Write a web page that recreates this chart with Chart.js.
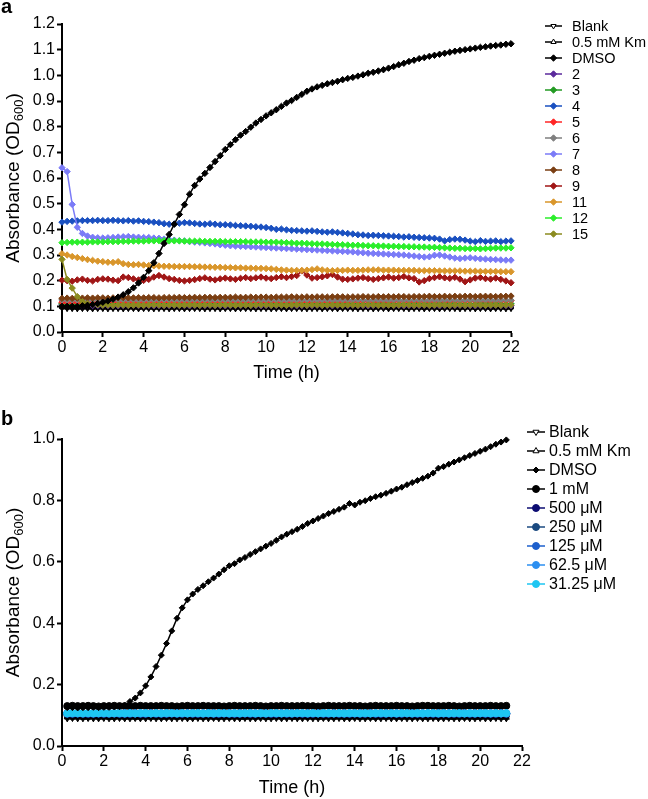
<!DOCTYPE html>
<html>
<head>
<meta charset="utf-8">
<script src="https://cdn.jsdelivr.net/npm/chart.js@4.4.1/dist/chart.umd.min.js"></script>
<style>
body { margin: 0; background: #fff; width: 648px; height: 799px; position: relative; overflow: hidden; font-family: "Liberation Sans", Arial, sans-serif; }
canvas { position: absolute; left: 0; }
#chartA { top: 0; }
#chartB { top: 400px; }
.panel { position: absolute; left: 1px; font-weight: bold; font-size: 20px; line-height: 23px; }
</style>
</head>
<body>
<canvas id="chartA" width="648" height="400"></canvas>
<canvas id="chartB" width="648" height="399"></canvas>
<div class="panel" style="top:-5px">a</div>
<div class="panel" style="top:407px">b</div>
<script>
const FONT = "'Liberation Sans', Arial, sans-serif";

// ---- panel a: time (h), 15 min reads
const timeA = [0,0.25,0.5,0.75,1,1.25,1.5,1.75,2,2.25,2.5,2.75,3,3.25,3.5,3.75,4,4.25,4.5,4.75,
  5,5.25,5.5,5.75,6,6.25,6.5,6.75,7,7.25,7.5,7.75,8,8.25,8.5,8.75,9,9.25,9.5,9.75,
  10,10.25,10.5,10.75,11,11.25,11.5,11.75,12,12.25,12.5,12.75,13,13.25,13.5,13.75,14,14.25,14.5,14.75,
  15,15.25,15.5,15.75,16,16.25,16.5,16.75,17,17.25,17.5,17.75,18,18.25,18.5,18.75,19,19.25,19.5,19.75,
  20,20.25,20.5,20.75,21,21.25,21.5,21.75,22,22.25];

const blankA = [.092,.091,.091,.090,.091,.091,.090,.091, .091,.090,.091,.091,.090,.091,.091,.090,
  .091,.091,.090,.091,.091,.090,.091,.091, .090,.091,.091,.091,.090,.091,.091,.090,
  .091,.091,.090,.091,.091,.091,.090,.091, .091,.090,.091,.091,.090,.091,.091,.091,
  .090,.091,.091,.090,.091,.091,.090,.091, .091,.091,.090,.091,.091,.090,.091,.091,
  .090,.091,.091,.091,.090,.091,.091,.090, .091,.091,.090,.091,.091,.091,.090,.091,
  .091,.090,.091,.091,.090,.091,.091,.090, .091,.091];
const kmA = [.097,.096,.096,.095,.096,.096,.095,.096, .096,.095,.096,.096,.095,.096,.096,.095,
  .096,.096,.095,.096,.096,.095,.096,.096, .095,.096,.096,.096,.095,.096,.096,.095,
  .096,.096,.095,.096,.096,.096,.095,.096, .096,.095,.096,.096,.095,.096,.096,.096,
  .095,.096,.096,.095,.096,.096,.095,.096, .096,.096,.095,.096,.096,.095,.096,.096,
  .095,.096,.096,.096,.095,.096,.096,.095, .096,.096,.095,.096,.096,.096,.095,.096,
  .096,.095,.096,.096,.095,.096,.096,.095, .096,.096];
const dmsoA = [.100,.100,.100,.100,.102,.104,.107,.111, .116,.121,.128,.136,.145,.157,.172,.191,
  .213,.239,.270,.306,.345,.380,.420,.458, .496,.537,.571,.596,.618,.641,.664,.687,
  .711,.730,.749,.767,.781,.798,.814,.828, .842,.854,.866,.879,.892,.902,.914,.926,
  .938,.947,.955,.961,.967,.972,.977,.983, .988,.992,.997,1.002,1.008,1.012,1.017,1.022,
  1.028,1.034,1.041,1.047,1.054,1.059,1.065,1.069, 1.074,1.078,1.082,1.086,1.090,1.094,1.097,1.100,
  1.103,1.106,1.109,1.111,1.114,1.116,1.118,1.121, 1.123,1.125];
const c2A = [.106,.105,.104,.103,.103,.104,.103,.103, .104,.103,.103,.102,.103,.103,.104,.103,
  .103,.103,.102,.103,.103,.103,.104,.103, .103,.102,.103,.103,.103,.104,.103,.103,
  .102,.103,.103,.103,.104,.103,.103,.102, .103,.103,.103,.104,.103,.103,.102,.103,
  .103,.103,.104,.103,.103,.102,.103,.103, .103,.104,.103,.103,.102,.103,.103,.103,
  .104,.103,.103,.102,.103,.103,.103,.104, .103,.103,.102,.103,.103,.103,.104,.103,
  .103,.102,.103,.103,.103,.104,.103,.103, .102,.103];
const c3A = [.111,.110,.110,.109,.110,.110,.110,.111, .110,.110,.109,.110,.110,.111,.110,.110,
  .110,.109,.110,.110,.111,.110,.110,.110, .109,.110,.110,.111,.110,.110,.110,.109,
  .110,.110,.111,.110,.110,.110,.109,.110, .110,.111,.110,.110,.110,.109,.110,.110,
  .111,.110,.110,.110,.109,.110,.110,.111, .110,.110,.110,.109,.110,.110,.111,.110,
  .110,.110,.109,.110,.110,.111,.110,.110, .110,.109,.110,.110,.111,.110,.110,.110,
  .109,.110,.110,.111,.110,.110,.110,.109, .110,.110];
const c4A = [.428,.431,.432,.433,.434,.434,.434,.435, .434,.434,.435,.434,.433,.434,.432,.433,
  .431,.430,.428,.426,.422,.420,.421,.424, .426,.425,.423,.421,.420,.422,.420,.418,
  .418,.417,.415,.414,.413,.412,.410,.409, .407,.404,.400,.401,.398,.396,.395,.394,
  .393,.394,.392,.390,.389,.390,.388,.386, .384,.382,.379,.378,.376,.377,.376,.375,
  .374,.373,.372,.370,.371,.369,.368,.367, .366,.365,.362,.355,.360,.362,.361,.358,
  .354,.352,.356,.353,.354,.355,.352,.354, .355,.356];
const c5A = [.116,.116,.117,.116,.117,.117,.116,.117, .117,.117,.118,.117,.117,.118,.117,.118,
  .118,.117,.118,.118,.118,.117,.118,.118, .118,.119,.118,.118,.119,.118,.119,.119,
  .118,.119,.119,.119,.118,.119,.119,.119, .119,.120,.119,.119,.120,.119,.120,.120,
  .119,.120,.120,.120,.119,.120,.120,.120, .120,.121,.120,.120,.121,.120,.121,.121,
  .120,.121,.121,.121,.120,.121,.121,.121, .121,.121,.122,.121,.121,.122,.121,.121,
  .122,.121,.122,.122,.121,.122,.122,.121, .122,.122];
const c6A = [.125,.124,.125,.125,.124,.125,.125,.125, .124,.125,.125,.124,.125,.125,.125,.124,
  .125,.125,.124,.125,.125,.125,.124,.125, .125,.124,.125,.125,.125,.124,.125,.125,
  .124,.125,.125,.125,.124,.125,.125,.124, .125,.125,.125,.124,.125,.125,.124,.125,
  .125,.125,.124,.125,.125,.124,.125,.125, .125,.124,.125,.125,.124,.125,.125,.125,
  .124,.125,.125,.124,.125,.125,.125,.124, .125,.125,.124,.125,.125,.125,.124,.125,
  .125,.124,.125,.125,.125,.124,.125,.125, .124,.125];
const c7A = [.640,.625,.497,.408,.384,.374,.369,.367, .366,.367,.368,.370,.371,.372,.370,.369,
  .368,.368,.366,.365,.362,.360,.358,.356, .355,.352,.350,.349,.347,.345,.343,.340,
  .338,.336,.335,.334,.333,.332,.331,.330, .329,.328,.327,.326,.325,.324,.323,.322,
  .321,.320,.319,.318,.317,.316,.315,.314, .313,.312,.310,.309,.307,.306,.305,.304,
  .303,.302,.301,.300,.298,.296,.294,.292, .293,.299,.300,.296,.292,.288,.286,.288,
  .289,.287,.285,.284,.283,.282,.281,.280, .280,.279];
const c8A = [.131,.132,.131,.132,.132,.133,.132,.133, .133,.132,.133,.133,.134,.133,.133,.134,
  .133,.134,.134,.133,.134,.134,.134,.135, .134,.134,.135,.134,.135,.135,.134,.135,
  .135,.135,.136,.135,.135,.136,.135,.136, .136,.135,.136,.136,.136,.137,.136,.136,
  .137,.136,.137,.137,.136,.137,.137,.137, .136,.137,.137,.138,.137,.137,.138,.137,
  .138,.137,.138,.138,.137,.138,.138,.138, .139,.138,.138,.139,.138,.139,.138,.139,
  .139,.138,.139,.139,.139,.138,.139,.139, .140,.139];
const c9A = [.202,.200,.198,.203,.206,.201,.199,.205, .207,.206,.202,.200,.214,.212,.207,.203,
  .201,.205,.214,.220,.214,.208,.205,.201, .199,.201,.204,.208,.211,.206,.203,.207,
  .210,.207,.205,.209,.212,.208,.211,.214, .210,.208,.212,.215,.212,.216,.220,.238,
  .222,.210,.212,.215,.219,.224,.214,.206, .205,.207,.210,.212,.208,.205,.208,.211,
  .214,.210,.212,.216,.211,.208,.195,.200, .208,.212,.215,.211,.209,.213,.206,.196,
  .203,.210,.212,.208,.206,.210,.205,.199, .192,.195];
const c11A = [.305,.300,.294,.290,.286,.282,.279,.276, .274,.272,.271,.274,.266,.263,.262,.263,
  .261,.259,.258,.257,.256,.256,.255,.255, .255,.255,.254,.254,.253,.253,.252,.252,
  .251,.251,.250,.250,.249,.249,.248,.248, .247,.246,.244,.242,.241,.240,.240,.240,
  .241,.243,.246,.242,.240,.239,.240,.240, .241,.240,.240,.241,.242,.242,.242,.241,
  .241,.241,.240,.240,.240,.240,.239,.239, .239,.239,.238,.238,.238,.238,.238,.237,
  .237,.237,.236,.236,.236,.236,.235,.235, .235,.235];
const c12A = [.348,.349,.350,.350,.350,.350,.351,.351, .351,.352,.352,.352,.353,.353,.354,.354,
  .354,.355,.355,.356,.356,.355,.355,.355, .354,.354,.354,.354,.353,.353,.353,.353,
  .352,.352,.352,.352,.352,.351,.351,.351, .350,.350,.350,.349,.348,.347,.346,.346,
  .345,.344,.343,.343,.342,.341,.340,.340, .339,.338,.338,.337,.336,.336,.335,.335,
  .334,.334,.333,.333,.332,.332,.331,.331, .330,.330,.329,.328,.327,.326,.326,.325,
  .325,.325,.324,.325,.326,.327,.327,.327, .328,.328];
const c15A = [.283,.205,.171,.138,.118,.110,.107,.106, .105,.105,.104,.105,.105,.104,.105,.105,
  .104,.105,.105,.105,.104,.105,.105,.104, .105,.105,.105,.104,.105,.105,.104,.105,
  .105,.105,.104,.105,.105,.104,.105,.105, .105,.104,.105,.105,.104,.105,.105,.105,
  .104,.105,.105,.104,.105,.105,.105,.104, .105,.105,.104,.105,.105,.105,.104,.105,
  .105,.104,.105,.105,.105,.104,.105,.105, .104,.105,.105,.105,.104,.105,.105,.104,
  .105,.105,.105,.104,.105,.105,.104,.105, .105,.105];

// ---- panel b
const timeB = [0.25,0.5,0.75,1,1.25,1.5,1.75,2,2.25,2.5,2.75,3,3.25,3.5,3.75,4,4.25,4.5,4.75,5,
  5.25,5.5,5.75,6,6.25,6.5,6.75,7,7.25,7.5,7.75,8,8.25,8.5,8.75,9,9.25,9.5,9.75,10,
  10.25,10.5,10.75,11,11.25,11.5,11.75,12,12.25,12.5,12.75,13,13.25,13.5,13.75,14,14.25,14.5,14.75,15,
  15.25,15.5,15.75,16,16.25,16.5,16.75,17,17.25,17.5,17.75,18,18.25,18.5,18.75,19,19.25,19.5,19.75,20,
  20.25,20.5,20.75,21,21.25];

const blankB = [.090,.091,.090,.090,.091,.090,.090,.091, .090,.090,.091,.090,.090,.091,.090,.090,
  .091,.090,.090,.091,.090,.090,.091,.090, .090,.091,.090,.090,.091,.090,.090,.091,
  .090,.090,.091,.090,.090,.091,.090,.090, .091,.090,.090,.091,.090,.090,.091,.090,
  .090,.091,.090,.090,.091,.090,.090,.091, .090,.090,.091,.090,.090,.091,.090,.090,
  .091,.090,.090,.091,.090,.090,.091,.090, .090,.091,.090,.090,.091,.090,.090,.091, .090,.090,.091,.090,.090];
const kmB = [.094,.093,.094,.093,.093,.094,.093,.094, .093,.093,.094,.093,.094,.093,.093,.094,
  .093,.094,.093,.093,.094,.093,.094,.093, .093,.094,.093,.094,.093,.093,.094,.093,
  .094,.093,.093,.094,.093,.094,.093,.093, .094,.093,.094,.093,.093,.094,.093,.094,
  .093,.093,.094,.093,.094,.093,.093,.094, .093,.094,.093,.093,.094,.093,.094,.093,
  .093,.094,.093,.094,.093,.093,.094,.093, .094,.093,.093,.094,.093,.094,.093,.093, .094,.093,.094,.093,.093];
const dmsoB = [.125,.125,.124,.125,.125,.126,.125,.126, .126,.127,.128,.132,.145,.156,.173,.196,
  .225,.259,.296,.334,.375,.416,.450,.476, .495,.510,.522,.535,.547,.560,.574,.587,
  .594,.606,.614,.624,.633,.642,.651,.660, .670,.681,.690,.698,.706,.715,.725,.733,
  .741,.749,.757,.764,.771,.778,.790,.785, .794,.799,.806,.812,.817,.823,.830,.837,
  .843,.851,.858,.865,.872,.879,.889,.905, .910,.918,.925,.932,.939,.946,.953,.960, .967,.975,.983,.990,.997];
const mM1B = [.130,.131,.130,.130,.131,.130,.129,.130, .130,.131,.130,.130,.129,.130,.131,.130,
  .130,.130,.131,.130,.130,.129,.130,.131, .130,.130,.131,.130,.130,.130,.129,.130,
  .131,.130,.130,.130,.131,.130,.129,.130, .130,.131,.130,.130,.130,.131,.130,.130,
  .129,.130,.131,.130,.130,.130,.131,.130, .130,.129,.130,.131,.130,.130,.130,.131,
  .130,.130,.129,.130,.131,.131,.130,.130, .130,.131,.130,.129,.130,.131,.130,.130, .130,.131,.130,.130,.131];
const u500B = [.104,.104,.105,.104,.104,.104,.105,.104, .104,.105,.104,.104,.104,.105,.104,.104,
  .105,.104,.104,.104,.105,.104,.104,.105, .104,.104,.104,.105,.104,.104,.105,.104,
  .104,.104,.105,.104,.104,.105,.104,.104, .104,.105,.104,.104,.105,.104,.104,.104,
  .105,.104,.104,.105,.104,.104,.104,.105, .104,.104,.105,.104,.104,.104,.105,.104,
  .104,.105,.104,.104,.104,.105,.104,.104, .105,.104,.104,.104,.105,.104,.104,.105, .104,.104,.104,.105,.104];
const u250B = [.105,.105,.106,.105,.105,.105,.106,.105, .105,.106,.105,.105,.105,.106,.105,.105,
  .106,.105,.105,.105,.106,.105,.105,.106, .105,.105,.105,.106,.105,.105,.106,.105,
  .105,.105,.106,.105,.105,.106,.105,.105, .105,.106,.105,.105,.106,.105,.105,.105,
  .106,.105,.105,.106,.105,.105,.105,.106, .105,.105,.106,.105,.105,.105,.106,.105,
  .105,.106,.105,.105,.105,.106,.105,.105, .106,.105,.105,.105,.106,.105,.105,.106, .105,.105,.105,.106,.105];
const u125B = [.106,.106,.107,.106,.106,.106,.107,.106, .106,.107,.106,.106,.106,.107,.106,.106,
  .107,.106,.106,.106,.107,.106,.106,.107, .106,.106,.106,.107,.106,.106,.107,.106,
  .106,.106,.107,.106,.106,.107,.106,.106, .106,.107,.106,.106,.107,.106,.106,.106,
  .107,.106,.106,.107,.106,.106,.106,.107, .106,.106,.107,.106,.106,.106,.107,.106,
  .106,.107,.106,.106,.106,.107,.106,.106, .107,.106,.106,.106,.107,.106,.106,.107, .106,.106,.106,.107,.106];
const u62B = [.107,.107,.106,.107,.107,.107,.106,.107, .107,.106,.107,.107,.107,.106,.107,.107,
  .106,.107,.107,.107,.106,.107,.107,.106, .107,.107,.107,.106,.107,.107,.106,.107,
  .107,.107,.106,.107,.107,.106,.107,.107, .107,.106,.107,.107,.106,.107,.107,.107,
  .106,.107,.107,.106,.107,.107,.107,.106, .107,.107,.106,.107,.107,.107,.106,.107,
  .107,.106,.107,.107,.107,.106,.107,.107, .106,.107,.107,.107,.106,.107,.107,.106, .107,.107,.107,.106,.107];
const u31B = [.106,.107,.107,.106,.107,.106,.107,.107, .106,.107,.107,.106,.107,.106,.107,.107,
  .106,.107,.106,.107,.107,.106,.107,.106, .107,.107,.106,.107,.106,.107,.107,.106,
  .107,.106,.107,.107,.106,.107,.106,.107, .107,.106,.107,.106,.107,.107,.106,.107,
  .106,.107,.107,.106,.107,.106,.107,.107, .106,.107,.106,.107,.107,.106,.107,.106,
  .107,.107,.106,.107,.106,.107,.107,.106, .107,.106,.107,.107,.106,.107,.106,.107, .107,.106,.107,.106,.107];

// pair times with values
function pts(t, v) {
    return v.map((y, i) => ({ x: t[i], y: y }));
}

function series(label, t, v, color, style, radius, extra) {
    return Object.assign({
        label: label,
        data: pts(t, v),
        borderColor: color,
        backgroundColor: color,
        pointBackgroundColor: color,
        pointBorderColor: color,
        pointStyle: style,
        pointRadius: radius,
        pointBorderWidth: 1,
        pointRotation: 0,
        borderWidth: 1.5,
        tension: 0,
        clip: false
    }, extra || {});
}

// legend with a line segment and the marker, like the original figure
const sideLegend = {
    id: 'sideLegend',
    afterDraw(chart, args, opts) {
        const ctx = chart.ctx;
        ctx.save();
        ctx.font = opts.fontSize + 'px ' + FONT;
        ctx.textBaseline = 'middle';
        ctx.textAlign = 'left';
        chart.data.datasets.forEach((ds, i) => {
            const y = opts.top + i * opts.gap;
            ctx.strokeStyle = ds.borderColor;
            ctx.lineWidth = 1.5;
            ctx.beginPath();
            ctx.moveTo(opts.x, y);
            ctx.lineTo(opts.x + opts.len, y);
            ctx.stroke();
            // triangles are open in the key
            ctx.fillStyle = ds.pointStyle === 'triangle' ? '#fff' : ds.pointBackgroundColor;
            ctx.strokeStyle = ds.pointBorderColor;
            ctx.lineWidth = 1;
            Chart.helpers.drawPoint(ctx, {
                pointStyle: ds.pointStyle,
                rotation: ds.pointRotation,
                radius: ds.pointRadius,
                borderWidth: 1
            }, opts.x + opts.len / 2, y);
            ctx.fillStyle = '#000';
            ctx.fillText(ds.label, opts.textX, y + 1);
        });
        ctx.restore();
    }
};

// rotated y title with subscript
const yTitle = {
    id: 'yTitle',
    afterDraw(chart, args, opts) {
        const ctx = chart.ctx, a = chart.chartArea;
        const big = opts.size + 'px ' + FONT;
        const small = Math.round(opts.size * 0.68) + 'px ' + FONT;
        ctx.save();
        ctx.translate(opts.x, (a.top + a.bottom) / 2);
        ctx.rotate(-Math.PI / 2);
        ctx.fillStyle = '#000';
        ctx.textBaseline = 'alphabetic';
        ctx.textAlign = 'left';
        const p1 = 'Absorbance (OD', p2 = '600', p3 = ')';
        ctx.font = big;
        const w1 = ctx.measureText(p1).width, w3 = ctx.measureText(p3).width;
        ctx.font = small;
        const w2 = ctx.measureText(p2).width;
        let x = -(w1 + w2 + w3) / 2;
        const base = opts.size * 0.36;
        ctx.font = big; ctx.fillText(p1, x, base); x += w1;
        ctx.font = small; ctx.fillText(p2, x, base + opts.size * 0.22); x += w2;
        ctx.font = big; ctx.fillText(p3, x, base);
        ctx.restore();
    }
};

function axes(yMax, yStep, xHeight, titleBottom) {
    return {
        x: {
            type: 'linear', min: 0, max: 22,
            border: { color: '#000', width: 2 },
            grid: { drawOnChartArea: false, tickLength: 5, tickWidth: 2, tickColor: '#000' },
            ticks: { stepSize: 2, includeBounds: false, color: '#000', padding: 1, maxRotation: 0, font: { size: 16, family: FONT } },
            title: { display: true, text: 'Time (h)', color: '#000', font: { size: 18, family: FONT }, padding: { top: 0, bottom: titleBottom } },
            afterFit(s) { s.height = xHeight; }
        },
        y: {
            type: 'linear', min: 0, max: yMax,
            border: { color: '#000', width: 2 },
            grid: { drawOnChartArea: false, tickLength: 5, tickWidth: 2, tickColor: '#000' },
            ticks: { stepSize: yStep, color: '#000', padding: 2, font: { size: 16, family: FONT }, callback: v => v.toFixed(1) },
            afterFit(s) { s.width = 62; }
        }
    };
}

const diamond = 'rectRot';
const datasetsA = [
    series('Blank', timeA, blankA, '#000000', 'triangle', 3, { pointRotation: 180 }),
    series('0.5 mM Km', timeA, kmA, '#000000', 'triangle', 3),
    series('DMSO', timeA, dmsoA, '#000000', diamond, 3.2, { order: -100 }),
    series('2', timeA, c2A, '#5b2a9c', diamond, 3.2),
    series('3', timeA, c3A, '#239a23', diamond, 3.2),
    series('4', timeA, c4A, '#1a50c0', diamond, 3.2),
    series('5', timeA, c5A, '#ff2626', diamond, 3.2),
    series('6', timeA, c6A, '#7f7f7f', diamond, 3.2),
    series('7', timeA, c7A, '#7b7bf7', diamond, 3.2),
    series('8', timeA, c8A, '#7a3e12', diamond, 3.2),
    series('9', timeA, c9A, '#a01616', diamond, 3.2),
    series('11', timeA, c11A, '#d9962b', diamond, 3.2),
    series('12', timeA, c12A, '#2bee2b', diamond, 3.2),
    series('15', timeA, c15A, '#8b8b1f', diamond, 3.2)
];
datasetsA.forEach((d, i) => { if (d.order === undefined) d.order = -i; });

new Chart(document.getElementById('chartA').getContext('2d'), {
    type: 'line',
    data: { datasets: datasetsA },
    options: {
        responsive: false,
        animation: false,
        devicePixelRatio: 1,
        layout: { padding: { left: 0, right: 137, top: 24, bottom: 0 } },
        scales: axes(1.2, 0.1, 68, 16),
        plugins: {
            legend: { display: false },
            tooltip: { enabled: false },
            sideLegend: { x: 545, len: 17, textX: 572, top: 26, gap: 16, fontSize: 14.5 },
            yTitle: { x: 12, size: 19 }
        }
    },
    plugins: [sideLegend, yTitle]
});

const datasetsB = [
    series('Blank', timeB, blankB, '#000000', 'triangle', 3.5, { pointRotation: 180 }),
    series('0.5 mM Km', timeB, kmB, '#000000', 'triangle', 3.5),
    series('DMSO', timeB, dmsoB, '#000000', diamond, 3, { order: -100 }),
    series('1 mM', timeB, mM1B, '#000000', 'circle', 3.5),
    series('500 \u03bcM', timeB, u500B, '#0c0c72', 'circle', 3.5),
    series('250 \u03bcM', timeB, u250B, '#1b4a80', 'circle', 3.5),
    series('125 \u03bcM', timeB, u125B, '#1d5fcc', 'circle', 3.5),
    series('62.5 \u03bcM', timeB, u62B, '#2c8ff0', 'circle', 3.5),
    series('31.25 \u03bcM', timeB, u31B, '#1ec6f2', 'circle', 3.5)
];
datasetsB.forEach((d, i) => { if (d.order === undefined) d.order = -i; });

new Chart(document.getElementById('chartB').getContext('2d'), {
    type: 'line',
    data: { datasets: datasetsB },
    options: {
        responsive: false,
        animation: false,
        devicePixelRatio: 1,
        layout: { padding: { left: 0, right: 126, top: 39, bottom: 0 } },
        scales: axes(1.0, 0.2, 53, 0),
        plugins: {
            legend: { display: false },
            tooltip: { enabled: false },
            sideLegend: { x: 527, len: 18, textX: 549, top: 32, gap: 19, fontSize: 16 },
            yTitle: { x: 12, size: 19 }
        }
    },
    plugins: [sideLegend, yTitle]
});
</script>
</body>
</html>
